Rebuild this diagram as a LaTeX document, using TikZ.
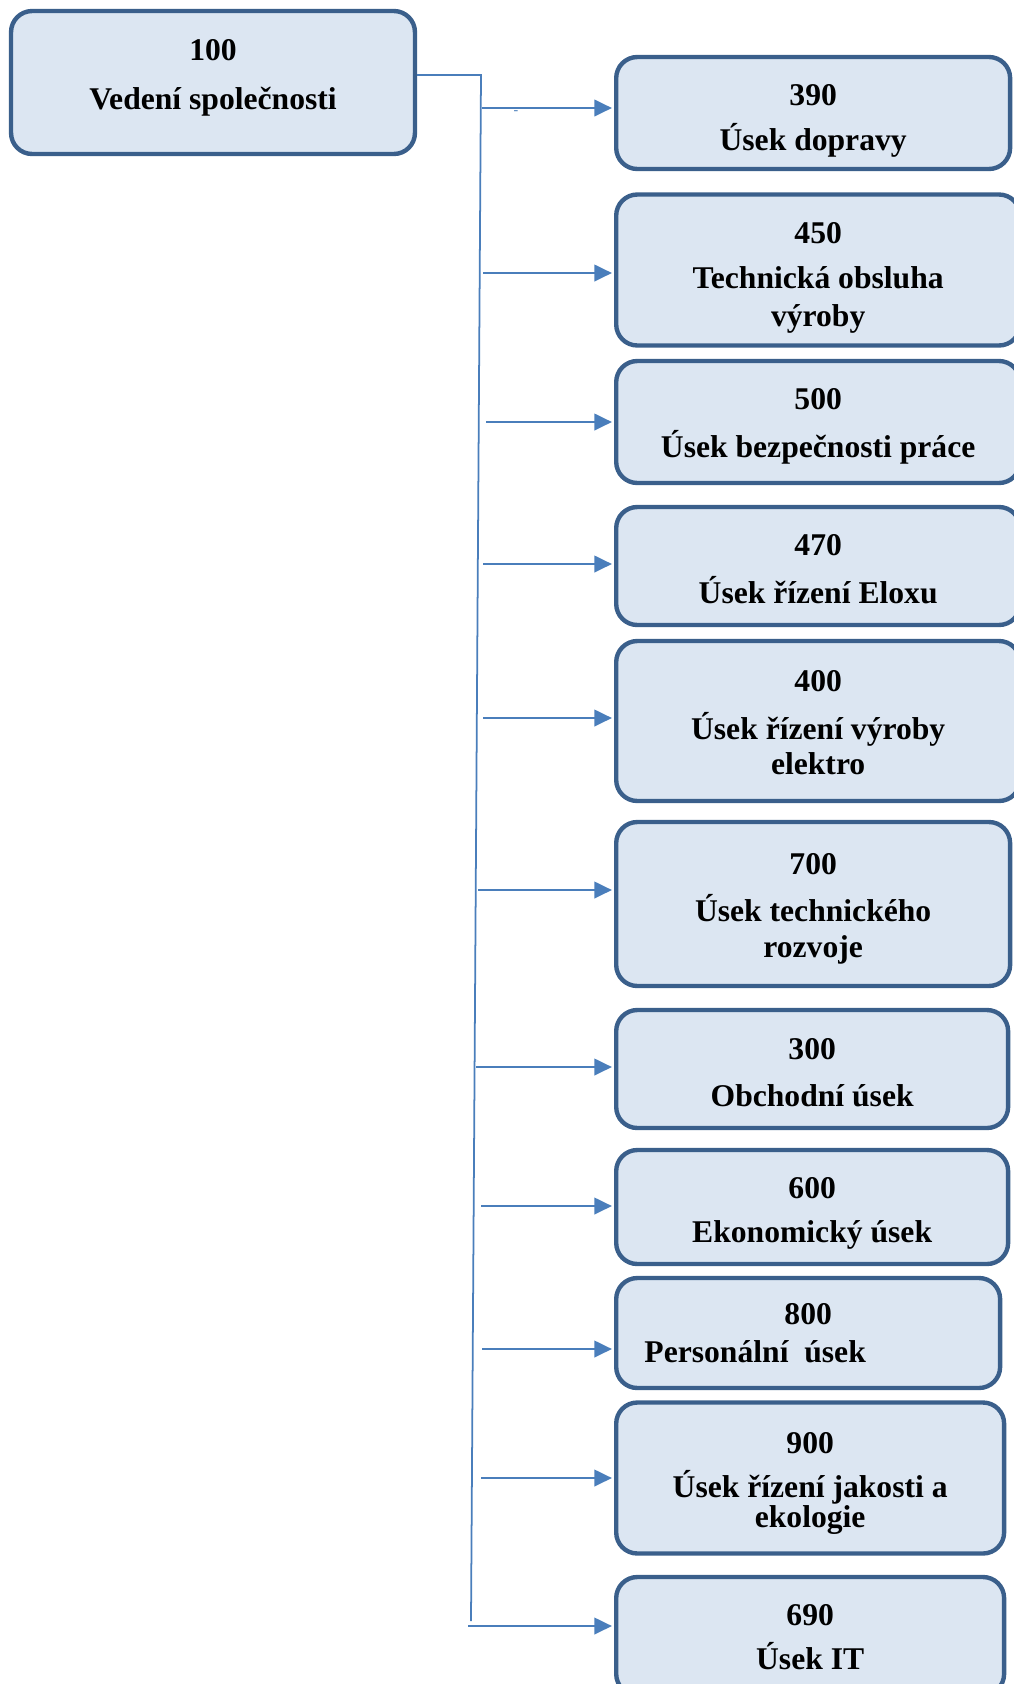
\documentclass[tikz,border=0pt]{standalone}
\usepackage{fontspec}
\setmainfont{Liberation Serif}
\usetikzlibrary{arrows.meta}

\definecolor{ramecek}{HTML}{3A5F8B}
\definecolor{vypln}{HTML}{DCE6F2}
\definecolor{spojka}{HTML}{4A7EBB}

% cislo useku s podperou (posune text dolu)
\newcommand{\cislo}[2]{\rule{0pt}{#1}#2}

\begin{document}
\begin{tikzpicture}[x=0.02cm, y=-0.02cm,
    usek/.style={draw=ramecek, line width=2.5pt, fill=vypln, rounded corners=12pt,
        align=center, anchor=west, inner sep=0pt,
        font=\fontsize{18pt}{21.6pt}\selectfont\bfseries},
    spoj/.style={draw=spojka, line width=1pt, shorten >=1.2pt, -{Triangle[length=10pt, width=9.5pt]}}]
        \useasboundingbox (0,0) rectangle (1014,1684);

        % Vedeni spolecnosti
        \node[usek, anchor=center, minimum width=8.08cm, minimum height=2.86cm] (v100) at (213,82.5) {100\\[6pt]Vedení společnosti\rule[-9pt]{0pt}{0pt}};

        % Useky
        \node[usek, minimum width=7.88cm, minimum height=2.24cm] (u390) at (614,113) {\cislo{20.8pt}{390}\\[4pt]Úsek dopravy};
        \node[usek, minimum width=8.08cm, minimum height=3.02cm] (u450) at (614,270) {\cislo{21.4pt}{450}\\[4pt]Technická obsluha\\výroby};
        \node[usek, minimum width=8.08cm, minimum height=2.44cm] (u500) at (614,422) {\cislo{17pt}{500}\\[5.5pt]Úsek bezpečnosti práce};
        \node[usek, minimum width=8.08cm, minimum height=2.36cm] (u470) at (614,566) {\cislo{15.4pt}{470}\\[5.5pt]Úsek řízení Eloxu};
        \node[usek, minimum width=8.08cm, minimum height=3.2cm] (u400) at (614,721) {\cislo{14.3pt}{400}\\[5.5pt]Úsek řízení výroby\\[-1.5pt]elektro};
        \node[usek, minimum width=7.88cm, minimum height=3.28cm] (u700) at (614,904) {\cislo{17pt}{700}\\[5.5pt]Úsek technického\\[-1.5pt]rozvoje};
        \node[usek, minimum width=7.84cm, minimum height=2.36cm] (u300) at (614,1069) {\cislo{16pt}{300}\\[5.5pt]Obchodní úsek};
        \node[usek, minimum width=7.84cm, minimum height=2.28cm] (u600) at (614,1207) {\cislo{19pt}{600}\\[3.5pt]Ekonomický úsek};
        \node[usek, minimum width=7.68cm, minimum height=2.2cm] (u800) at (614,1333) {800\\[0.3pt]\hspace*{-2.12cm}Personální~~úsek};
        \node[usek, minimum width=7.76cm, minimum height=3.02cm] (u900) at (614,1478) {\cislo{17.7pt}{900}\\[4pt]Úsek řízení jakosti a\\[-5pt]ekologie};
        \node[usek, minimum width=7.76cm, minimum height=2.36cm] (u690) at (614,1636) {\cislo{13.3pt}{690}\\[3pt]Úsek IT};

        % Hlavni vedeni
        \coordinate (roh) at (481,75);
        \coordinate (konec) at (471,1621);
        \draw[spoj, -, shorten >=0pt] (v100.east |- roh) -- (roh) -- (konec);

        % Odbocky
        \coordinate (b1) at (482,108);
        \coordinate (b2) at (483,273);
        \coordinate (b3) at (486,422);
        \coordinate (b4) at (483,564);
        \coordinate (b5) at (483,718);
        \coordinate (b6) at (478,890);
        \coordinate (b7) at (476,1067);
        \coordinate (b8) at (481,1206);
        \coordinate (b9) at (482,1349);
        \coordinate (b10) at (481,1478);
        \coordinate (b11) at (468,1626);
        \draw[spoj] (b1) -- (b1 -| u390.west);
        \draw[spoj] (b2) -- (b2 -| u450.west);
        \draw[spoj] (b3) -- (b3 -| u500.west);
        \draw[spoj] (b4) -- (b4 -| u470.west);
        \draw[spoj] (b5) -- (b5 -| u400.west);
        \draw[spoj] (b6) -- (b6 -| u700.west);
        \draw[spoj] (b7) -- (b7 -| u300.west);
        \draw[spoj] (b8) -- (b8 -| u600.west);
        \draw[spoj] (b9) -- (b9 -| u800.west);
        \draw[spoj] (b10) -- (b10 -| u900.west);
        \draw[spoj] (b11) -- (b11 -| u690.west);

        % Pomlcka pod prvni sipkou
        \node[text=spojka, font=\fontsize{8pt}{8pt}\selectfont, inner sep=0pt] (pomlcka) at (516,113) {-};
    \end{tikzpicture}
\end{document}
